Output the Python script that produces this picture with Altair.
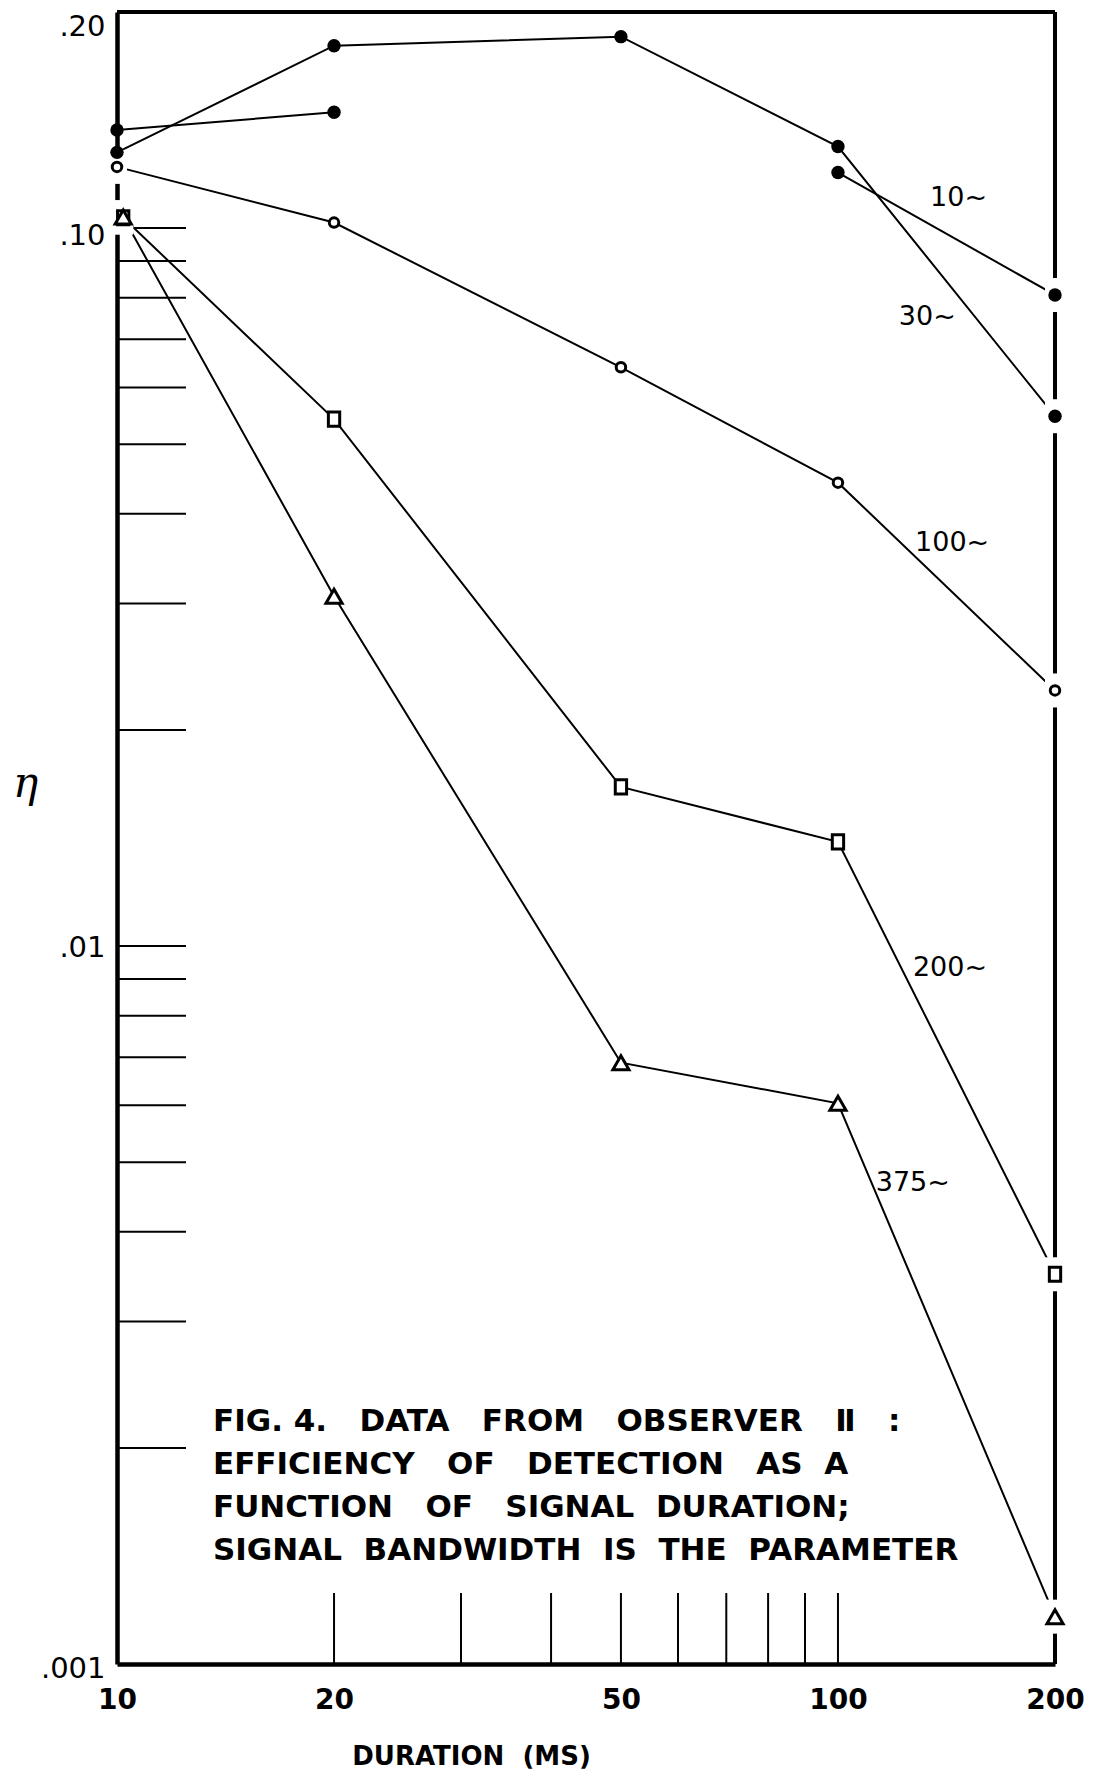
import altair as alt
import pandas as pd

# ---------------- data ----------------
durations = [10, 20, 50, 100, 200]
# squares / triangles at 10 ms are drawn just to the right of the axis
durations_offset = [10.2, 20, 50, 100, 200]

eta_10 = [0.137, 0.145, None, 0.1195, 0.0807]
eta_30 = [0.1275, 0.1795, 0.1848, 0.1299, 0.0547]
eta_100 = [0.1217, 0.1018, 0.0640, 0.0442, 0.0227]
eta_200 = [0.1034, 0.0542, 0.01666, 0.01397, 0.00349]
eta_375 = [0.1036, 0.0307, 0.00688, 0.00604, 0.001164]

series_names = ["10~", "30~", "100~", "200~", "375~"]
series_values = [eta_10, eta_30, eta_100, eta_200, eta_375]
series_x = [durations, durations, durations, durations_offset, durations_offset]
marker_styles = ["filled", "filled", "open", "square", "triangle"]

label_duration = [147, 133, 144, 143, 127]
label_eta = [0.1103, 0.0753, 0.0364, 0.00933, 0.00468]

y_tick_values = [0.2, 0.1, 0.01, 0.001]
y_tick_labels = [".20", ".10", ".01", ".001"]
y_minor = [0.1, 0.09, 0.08, 0.07, 0.06, 0.05, 0.04, 0.03, 0.02,
           0.01, 0.009, 0.008, 0.007, 0.006, 0.005, 0.004, 0.003, 0.002]
x_tick_values = [10, 20, 50, 100, 200]
x_minor = [20, 30, 40, 50, 60, 70, 80, 90, 100]

NB = "\u00a0"
S2 = NB * 2
S3 = NB * 3
caption_lines = [
    f"FIG.{NB}4.{S3}DATA{S3}FROM{S3}OBSERVER{S3}\u2161{S3}:",
    f"EFFICIENCY{S3}OF{S3}DETECTION{S3}AS{S2}A",
    f"FUNCTION{S3}OF{S3}SIGNAL{S2}DURATION;",
    f"SIGNAL{S2}BANDWIDTH{S2}IS{S2}THE{S2}PARAMETER",
]

# ---------------- tables ----------------
rows = []
for name, xs, vals, style in zip(series_names, series_x, series_values, marker_styles):
    seg = 0
    for xv, yv in zip(xs, vals):
        if yv is None:
            seg += 1
            continue
        rows.append({"duration": xv, "eta": yv, "series": name,
                     "style": style, "seg": f"{name}-{seg}"})
pts = pd.DataFrame(rows)
pts["halo"] = ((pts["duration"] >= 200) | ((pts["duration"] < 11) & (pts["style"] != "filled")))

labels = pd.DataFrame({"duration": label_duration, "eta": label_eta, "text": series_names})
ymin = pd.DataFrame({"eta": y_minor})
xmin = pd.DataFrame({"duration": x_minor})

W, H = 938, 1652
FONT = "DejaVu Sans"

xscale = alt.Scale(type="log", domain=[10, 200], nice=False)
yscale = alt.Scale(type="log", domain=[0.001, 0.2], nice=False)

label_expr_y = " : ".join(
    [f"datum.value == {v} ? '{t}'" for v, t in zip(y_tick_values, y_tick_labels)]
) + " : ''"

x_axis = alt.Axis(values=x_tick_values, format=".0f", tickSize=0, grid=False,
                  domainColor="black", domainWidth=4.5, labelFont=FONT,
                  labelFontSize=28, labelFontWeight="bold", labelColor="black",
                  labelPadding=22, labelFlush=False,
                  title=f"DURATION{S2}(MS)", titleFont=FONT, titleFontSize=26,
                  titleFontWeight="bold", titleColor="black", titleX=354, titleY=92,
                  titleAlign="center", titleBaseline="middle")
y_axis = alt.Axis(values=y_tick_values, labelExpr=label_expr_y, tickSize=0, grid=False,
                  domainColor="black", domainWidth=4.5, labelFont=FONT,
                  labelFontSize=29, labelColor="black", labelPadding=12,
                  labelOffset={"condition": [
                      {"test": "datum.value >= 0.15", "value": 14},
                      {"test": "datum.value >= 0.05", "value": 7},
                      {"test": "datum.value <= 0.002", "value": 4}],
                      "value": 1},
                  labelBaseline="middle",
                  title="\u03b7", titleFont="DejaVu Serif", titleFontStyle="italic",
                  titleFontSize=42, titleFontWeight="normal", titleColor="black",
                  titleAngle=0, titleX=-92, titleY=771, titleAlign="center",
                  titleBaseline="middle")

X = alt.X("duration:Q", scale=xscale, axis=x_axis)
Y = alt.Y("eta:Q", scale=yscale, axis=y_axis)

one = alt.Data(values=[{}])

top_frame = alt.Chart(one).mark_rule(color="black", strokeWidth=4).encode(
    x=alt.value(0), x2=alt.value(W), y=alt.value(0))
right_frame = alt.Chart(one).mark_rule(color="black", strokeWidth=4).encode(
    x=alt.value(W), y=alt.value(0), y2=alt.value(H))

y_ticks = alt.Chart(ymin).mark_rule(color="black", strokeWidth=2).encode(
    y=Y, x=alt.value(0), x2=alt.value(69))
x_ticks = alt.Chart(xmin).mark_rule(color="black", strokeWidth=2).encode(
    x=X, y=alt.value(H - 71), y2=alt.value(H))

halos = alt.Chart(pts).transform_filter("datum.halo").mark_tick(
    color="white", orient="vertical", size=34, thickness=20, opacity=1).encode(x=X, y=Y)

lines = alt.Chart(pts).mark_line(color="black", strokeWidth=2).encode(
    x=X, y=Y, detail="seg:N", order="duration:Q")

filled = alt.Chart(pts).transform_filter("datum.style == 'filled'").mark_point(
    shape="circle", filled=True, color="black", size=180, opacity=1).encode(x=X, y=Y)
opened = alt.Chart(pts).transform_filter("datum.style == 'open'").mark_point(
    shape="circle", filled=True, fill="white", stroke="black", strokeWidth=3,
    size=90, opacity=1).encode(x=X, y=Y)
squares = alt.Chart(pts).transform_filter("datum.style == 'square'").mark_point(
    shape="M-0.8,-1L0.8,-1L0.8,1L-0.8,1Z", filled=True, fill="white", stroke="black",
    strokeWidth=3, size=200, opacity=1).encode(x=X, y=Y)
triangles = alt.Chart(pts).transform_filter("datum.style == 'triangle'").mark_point(
    shape="triangle-up", filled=True, fill="white", stroke="black", strokeWidth=3,
    size=260, opacity=1).encode(x=X, y=Y)

series_text = alt.Chart(labels).mark_text(
    font=FONT, fontSize=27, color="black", align="center", baseline="middle").encode(
    x=X, y=Y, text="text:N")

caption = alt.Chart(one).mark_text(
    text=caption_lines, font=FONT, fontSize=31, fontWeight="bold", color="black",
    align="left", baseline="middle", lineHeight=43).encode(
    x=alt.value(96), y=alt.value(1410))

chart = alt.layer(
    lines, top_frame, right_frame, y_ticks, x_ticks, halos,
    filled, opened, squares, triangles, series_text, caption
).properties(
    width=W, height=H,
    autosize=alt.AutoSizeParams(type="none"),
    padding={"left": 109, "top": 4, "right": 48, "bottom": 108},
).configure_view(stroke=None).configure(background="white")

chart.save("out.html", embed_options={"renderer": "svg", "actions": False})
